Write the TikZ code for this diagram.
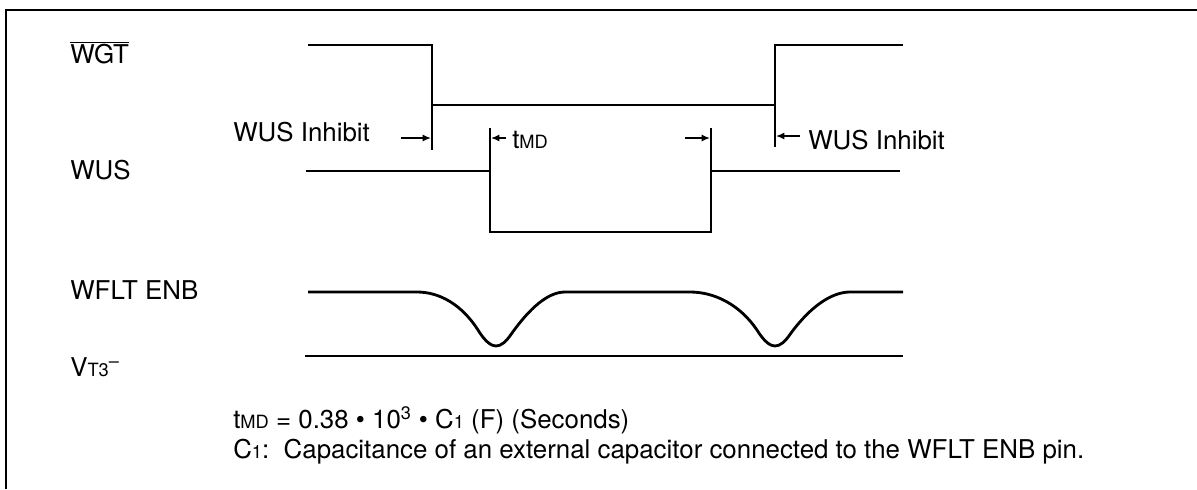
\documentclass[tikz,border=0pt]{standalone}
\usepackage{fontspec}
\setmainfont{TeX Gyre Heros}
\usetikzlibrary{arrows.meta}

\tikzset{
  wave/.style={line width=2pt},
  dimtick/.style={line width=1pt},
  dimarrow/.style={line width=1pt,-{Latex[length=6pt,width=5pt]}},
  lbl/.style={anchor=west,inner sep=0pt,font=\fontsize{18.4}{20}\selectfont},
}
\newcommand{\smtxt}[1]{{\fontsize{13}{13}\selectfont #1}}

\begin{document}
\begin{tikzpicture}[x=0.025cm,y=-0.025cm]
		\useasboundingbox (0,0) rectangle (1197,489);
		\draw[line width=1.4pt] (6,489) -- (6,10) -- (1197,10);

		% signal names
		\node[lbl] (wgt)  at (70,53)  {$\overline{\mbox{WGT}}$};
		\node[lbl] (wus)  at (70,170) {WUS};
		\node[lbl] (wflt) at (70,290) {WFLT ENB};
		\node[lbl] (vt)   at (70,367) {V\smtxt{T3}\textsuperscript{--}};

		% edges used by the markers
		\coordinate (wgtfall) at (432,105);
		\coordinate (wgtrise) at (775,105);
		\coordinate (wusfall) at (490,171);
		\coordinate (wusrise) at (711,171);

		% waveforms
		\draw[wave]
			(308,45) -- (432,45) -- (wgtfall) -- (wgtrise) -- (775,45) -- (903,45);
		\draw[wave]
			(306,171) -- (wusfall) -- (490,232) -- (711,232) -- (wusrise) -- (900,171);
		\draw[wave]
			(308,292) -- (417,292)
			.. controls (440,292) and (462,305) .. (478,330)
			.. controls (486,343) and (492,346) .. (496,346)
			.. controls (501,346) and (506,342) .. (512,333)
			.. controls (530,308) and (548,292) .. (565,292)
			-- (690,292)
			.. controls (715,292) and (740,305) .. (757,330)
			.. controls (765,343) and (771,346) .. (775,346)
			.. controls (780,346) and (785,342) .. (791,333)
			.. controls (811,306) and (832,292) .. (850,292)
			-- (903,292);
		\draw[wave] (305,356) -- (903,356);

		% markers
		\draw[dimtick] (wgtfall) -- ++(0,45);
		\draw[dimtick] (wusfall) -- ++(0,-43);
		\draw[dimtick] (wusrise) -- ++(0,-43);
		\draw[dimtick] (wgtrise) -- ++(0,42);

		\draw[dimarrow] (401,138) -- (431,138);
		\draw[dimarrow] (506,138) -- (491,138);
		\draw[dimarrow] (685,138) -- (710,138);
		\draw[dimarrow] (800,136) -- (776,136);

		\node[lbl] (inhleft)  at (233,132) {WUS Inhibit};
		\node[lbl] (tmd)      at (512,140) {t\smtxt{MD}};
		\node[lbl] (inhright) at (808,140) {WUS Inhibit};

		% notes
		\node[lbl] (eq)   at (233,420) {t\smtxt{MD} = 0.38 \textbullet{} 10\textsuperscript{3} \textbullet{} C\smtxt{1} (F) (Seconds)};
		\node[lbl] (note) at (233,452) {C\smtxt{1}:\ \ Capacitance of an external capacitor connected to the WFLT ENB pin.};
\end{tikzpicture}
\end{document}
